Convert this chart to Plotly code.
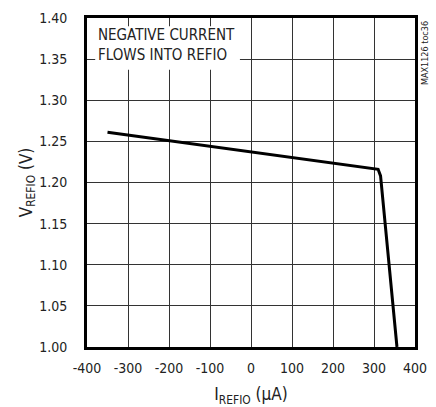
import plotly.graph_objects as go

current_ua = [-350, 310, 316, 356]
v_refio = [1.261, 1.216, 1.208, 1.0]
x_ticks = [-400, -300, -200, -100, 0, 100, 200, 300, 400]
y_ticks = [1.00, 1.05, 1.10, 1.15, 1.20, 1.25, 1.30, 1.35, 1.40]

FONT = "DejaVu Sans Condensed, Liberation Sans Narrow, sans-serif"

fig = go.Figure()
fig.add_trace(go.Scatter(x=current_ua, y=v_refio, mode="lines",
                         line=dict(color="black", width=3), showlegend=False))

fig.update_layout(
    width=436, height=407,
    margin=dict(l=87, r=21, t=18, b=60, autoexpand=False),
    paper_bgcolor="white", plot_bgcolor="white",
    font=dict(family=FONT, size=14, color="#222"),
    xaxis=dict(range=[-400, 400], tickvals=x_ticks, ticktext=[str(v) for v in x_ticks],
               showgrid=True, gridcolor="#333", gridwidth=1, zeroline=False,
               showline=True, linecolor="black", linewidth=3, mirror=True, automargin=False,
               ticks="outside", ticklen=6, tickcolor="rgba(0,0,0,0)",
               title=dict(text="I<sub>REFIO</sub> (µA)", standoff=14)),
    yaxis=dict(range=[1.0, 1.4], tickvals=y_ticks, ticktext=[f"{v:.2f}" for v in y_ticks],
               showgrid=True, gridcolor="#333", gridwidth=1, zeroline=False,
               showline=True, linecolor="black", linewidth=3, mirror=True, automargin=False,
               ticks="outside", ticklen=14, tickcolor="rgba(0,0,0,0)",
               title=dict(text="V<sub>REFIO</sub> (V)", standoff=3)),
)

fig.add_shape(type="rect", xref="x", yref="y", x0=-380, x1=-27, y0=1.337, y1=1.390,
              fillcolor="white", line=dict(width=0), layer="above")
fig.add_annotation(xref="x", yref="y", x=-378, y=1.393, xanchor="left", yanchor="top",
                   text="NEGATIVE CURRENT<br>FLOWS INTO REFIO", showarrow=False,
                   align="left", font=dict(family=FONT, size=15, color="#222"))
fig.add_annotation(xref="paper", yref="paper", x=1.0, y=1.0, xshift=3, yshift=-1, yanchor="top",
                   xanchor="left", text="MAX1126 toc36", textangle=-90, showarrow=False,
                   font=dict(family=FONT, size=9, color="#222"))

fig.write_html("out.html", config={"displayModeBar": False},
               post_script="document.body.style.margin='0';document.body.style.overflow='hidden';")
